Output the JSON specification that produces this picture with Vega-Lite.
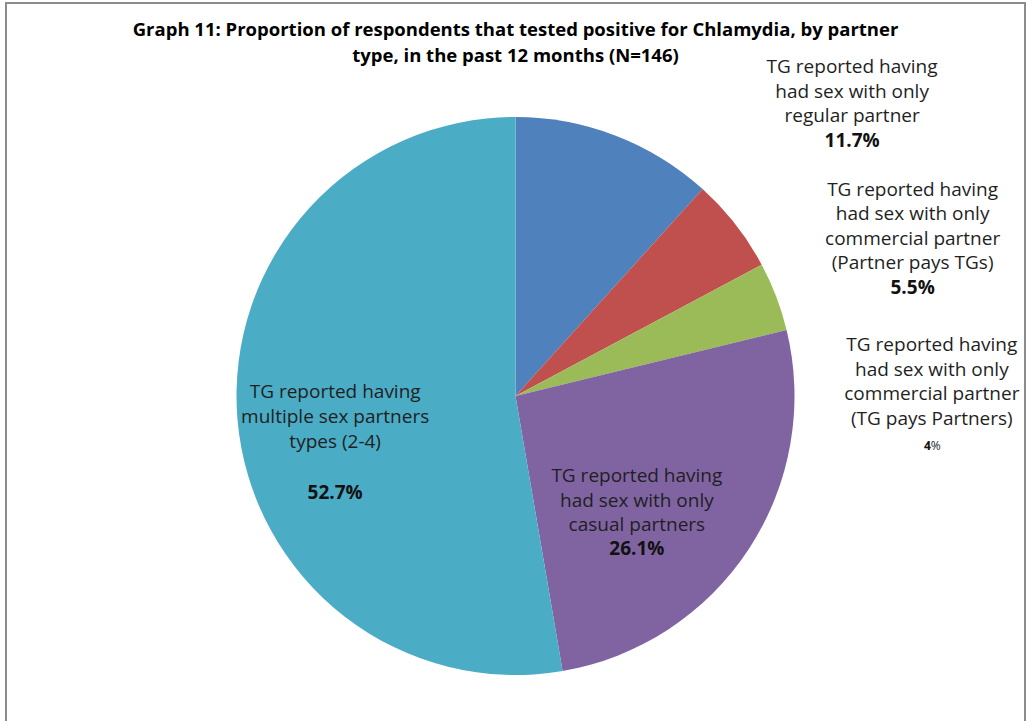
{
  "$schema": "https://vega.github.io/schema/vega-lite/v6.json",
  "width": 1019,
  "height": 786,
  "autosize": {"type": "none"},
  "padding": {"left": 6, "top": 3, "right": 2, "bottom": -68},
  "background": "white",
  "view": {"stroke": "#8c8c8c", "strokeWidth": 2},
  "title": {
    "text": ["Graph 11: Proportion of respondents that tested positive for Chlamydia, by partner", "type, in the past 12 months (N=146)"],
    "font": "Open Sans",
    "fontSize": 18.5,
    "fontWeight": "bold",
    "color": "#000000",
    "lineHeight": 26,
    "anchor": "middle",
    "frame": "group",
    "orient": "top",
    "baseline": "top",
    "offset": -62
  },
  "data": {
    "values": [
      {"cat": "Only regular partner", "order": 1, "value": 11.7, "pct": "11.7%", "label": "TG reported  having\nhad sex with only\nregular partner"},
      {"cat": "Only commercial partner (Partner pays TGs)", "order": 2, "value": 5.5, "pct": "5.5%", "label": "TG reported having\nhad sex with only\ncommercial partner\n(Partner pays TGs)"},
      {"cat": "Only commercial partner (TG pays Partners)", "order": 3, "value": 4, "pct": "4%", "label": "TG reported having\nhad sex with only\ncommercial partner\n(TG pays Partners)"},
      {"cat": "Only casual partners", "order": 4, "value": 26.1, "pct": "26.1%", "label": "TG reported having\nhad sex with only\ncasual partners"},
      {"cat": "Multiple sex partner types (2-4)", "order": 5, "value": 52.7, "pct": "52.7%", "label": "TG reported having\nmultiple sex partners\ntypes (2-4)"}
    ]
  },
  "encoding": {
    "theta": {"field": "value", "type": "quantitative", "stack": true},
    "order": {"field": "order", "type": "quantitative"}
  },
  "layer": [
    {
      "mark": {"type": "arc", "outerRadius": 279},
      "encoding": {
        "color": {
          "field": "cat",
          "type": "nominal",
          "scale": {
            "domain": ["Only regular partner", "Only commercial partner (Partner pays TGs)", "Only commercial partner (TG pays Partners)", "Only casual partners", "Multiple sex partner types (2-4)"],
            "range": ["#4F81BD", "#C0504D", "#9BBB59", "#8064A2", "#4BACC6"]
          },
          "legend": null
        }
      }
    },
    {
      "mark": {"type": "text", "radius": 330, "dx": 218, "dy": -21, "font": "Open Sans", "fontSize": 19, "lineHeight": 24.5, "lineBreak": "\n", "align": "center", "baseline": "middle", "color": "#1f1f1f"},
      "encoding": {"text": {"condition": {"test": "datum.order === 1", "field": "label", "type": "nominal"}, "value": ""}}
    },
    {
      "mark": {"type": "text", "radius": 330, "dx": 218, "dy": 53, "font": "Open Sans", "fontSize": 19, "fontWeight": "bold", "align": "center", "baseline": "middle", "color": "#111111"},
      "encoding": {"text": {"condition": {"test": "datum.order === 1", "field": "pct", "type": "nominal"}, "value": ""}}
    },
    {
      "mark": {"type": "text", "radius": 330, "dx": 137, "dy": -3, "font": "Open Sans", "fontSize": 19, "lineHeight": 24.5, "lineBreak": "\n", "align": "center", "baseline": "middle", "color": "#1f1f1f"},
      "encoding": {"text": {"condition": {"test": "datum.order === 2", "field": "label", "type": "nominal"}, "value": ""}}
    },
    {
      "mark": {"type": "text", "radius": 330, "dx": 137, "dy": 95, "font": "Open Sans", "fontSize": 19, "fontWeight": "bold", "align": "center", "baseline": "middle", "color": "#111111"},
      "encoding": {"text": {"condition": {"test": "datum.order === 2", "field": "pct", "type": "nominal"}, "value": ""}}
    },
    {
      "mark": {"type": "text", "radius": 330, "dx": 108, "dy": 67, "font": "Open Sans", "fontSize": 19, "lineHeight": 24.5, "lineBreak": "\n", "align": "center", "baseline": "middle", "color": "#1f1f1f"},
      "encoding": {"text": {"condition": {"test": "datum.order === 3", "field": "label", "type": "nominal"}, "value": ""}}
    },
    {
      "mark": {"type": "text", "radius": 330, "dx": 107, "dy": 168, "font": "Open Sans", "fontSize": 12, "fontWeight": "bold", "align": "right", "baseline": "middle", "color": "#111111"},
      "encoding": {"text": {"condition": {"test": "datum.order === 3", "field": "value", "type": "quantitative", "format": "d"}, "value": ""}}
    },
    {
      "mark": {"type": "text", "radius": 330, "dx": 107, "dy": 168, "font": "Open Sans", "fontSize": 12, "align": "left", "baseline": "middle", "color": "#1f1f1f"},
      "encoding": {"text": {"condition": {"test": "datum.order === 3", "value": "%"}, "value": ""}}
    },
    {
      "mark": {"type": "text", "radius": 150, "dx": -4, "dy": -2, "font": "Open Sans", "fontSize": 19, "lineHeight": 24.5, "lineBreak": "\n", "align": "center", "baseline": "middle", "color": "#1f1f1f"},
      "encoding": {"text": {"condition": {"test": "datum.order === 4", "field": "label", "type": "nominal"}, "value": ""}}
    },
    {
      "mark": {"type": "text", "radius": 150, "dx": -4, "dy": 71, "font": "Open Sans", "fontSize": 19, "fontWeight": "bold", "align": "center", "baseline": "middle", "color": "#111111"},
      "encoding": {"text": {"condition": {"test": "datum.order === 4", "field": "pct", "type": "nominal"}, "value": ""}}
    },
    {
      "mark": {"type": "text", "radius": 185, "dx": 4, "dy": -20, "font": "Open Sans", "fontSize": 19, "lineHeight": 25, "lineBreak": "\n", "align": "center", "baseline": "middle", "color": "#1f1f1f"},
      "encoding": {"text": {"condition": {"test": "datum.order === 5", "field": "label", "type": "nominal"}, "value": ""}}
    },
    {
      "mark": {"type": "text", "radius": 185, "dx": 4, "dy": 81, "font": "Open Sans", "fontSize": 19, "fontWeight": "bold", "align": "center", "baseline": "middle", "color": "#111111"},
      "encoding": {"text": {"condition": {"test": "datum.order === 5", "field": "pct", "type": "nominal"}, "value": ""}}
    }
  ]
}
